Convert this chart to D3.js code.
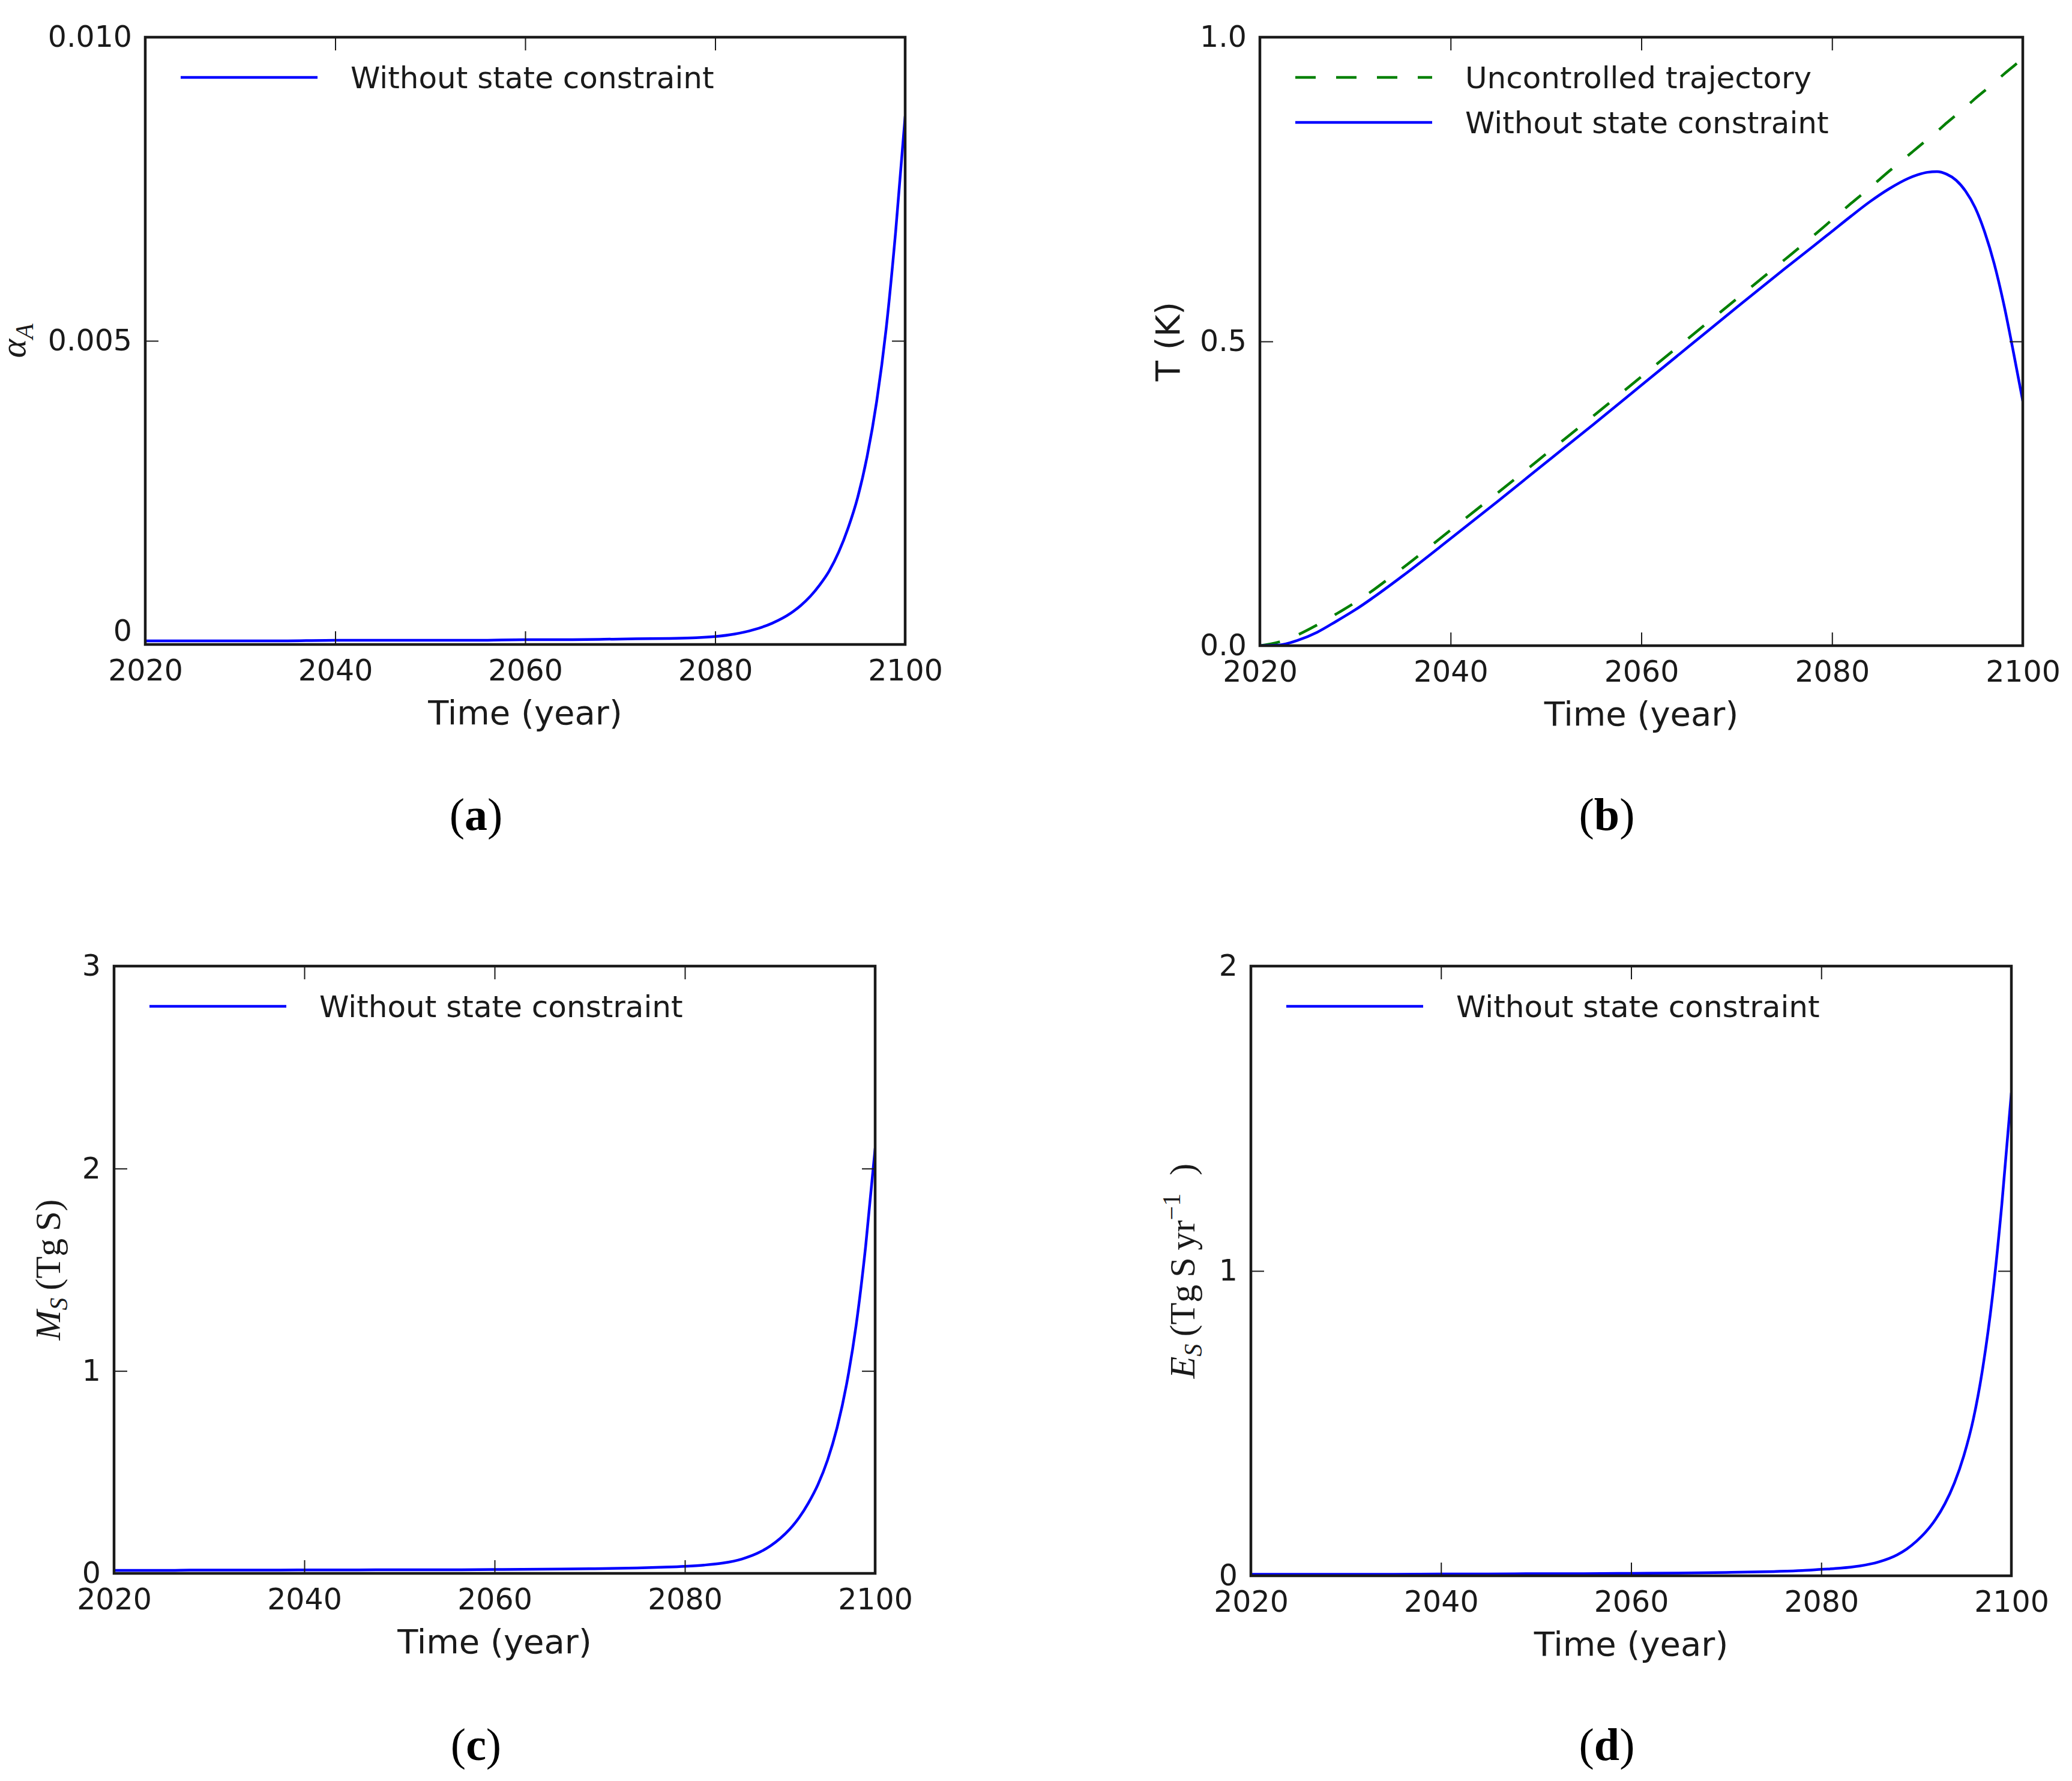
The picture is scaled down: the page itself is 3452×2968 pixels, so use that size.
<!DOCTYPE html>
<html>
<head>
<meta charset="utf-8">
<script src="https://cdn.jsdelivr.net/npm/d3@7"></script>
<style>
  body { margin: 0; background: #fff; }
  svg { display: block; }
</style>
</head>
<body>
<div id="chart"></div>
<script>
// sampled years (denser near the end where the curves bend)
const years = [2020, 2022, 2024, 2026, 2028, 2030, 2035, 2040, 2045, 2050, 2055, 2060, 2065, 2070, 2075, 2078,
  2080, 2082, 2084, 2086, 2088, 2089, 2090, 2091, 2092, 2093, 2094, 2095, 2096, 2097, 2098, 2099, 2100];

// (a) alpha_A
const alphaA = [0.00006, 0.00006, 0.00006, 0.00006, 0.00006, 0.00006, 0.00006, 0.00007, 0.00007, 0.00007, 0.00007,
  0.00008, 0.00008, 0.00009, 0.00010, 0.00011, 0.00013, 0.00017, 0.00024, 0.00035, 0.00052, 0.00064, 0.00079,
  0.00098, 0.00121, 0.00152, 0.00192, 0.00242, 0.0031, 0.0040, 0.0052, 0.0068, 0.0087];

// (b) temperature
const tempUncontrolled = [0.000, 0.006, 0.018, 0.034, 0.052, 0.071, 0.128, 0.190, 0.252, 0.315, 0.378, 0.442,
  0.506, 0.570, 0.634, 0.673, 0.700, 0.727, 0.753, 0.780, 0.806, 0.819, 0.832, 0.845, 0.859, 0.872, 0.885,
  0.899, 0.912, 0.925, 0.939, 0.952, 0.965];
const tempControlled = [0.000, 0.001, 0.009, 0.022, 0.040, 0.059, 0.115, 0.176, 0.238, 0.301, 0.364, 0.428,
  0.492, 0.556, 0.619, 0.656, 0.681, 0.706, 0.730, 0.751, 0.768, 0.774, 0.778, 0.779, 0.775, 0.765, 0.747,
  0.720, 0.680, 0.628, 0.562, 0.484, 0.402];

// (c) sulfur mass M_S
const sulfurMass = [0.015, 0.015, 0.015, 0.015, 0.016, 0.016, 0.016, 0.017, 0.017, 0.018, 0.018, 0.019, 0.021,
  0.023, 0.027, 0.031, 0.035, 0.041, 0.051, 0.071, 0.108, 0.136, 0.172, 0.217, 0.275, 0.349, 0.440, 0.560,
  0.720, 0.935, 1.225, 1.615, 2.100];

// (d) sulfur emission E_S
const sulfurEmission = [0.005, 0.005, 0.005, 0.005, 0.005, 0.005, 0.005, 0.006, 0.006, 0.007, 0.007, 0.008,
  0.009, 0.011, 0.014, 0.017, 0.021, 0.025, 0.032, 0.045, 0.069, 0.088, 0.113, 0.144, 0.184, 0.236, 0.304,
  0.394, 0.514, 0.684, 0.914, 1.220, 1.585];

const xTicks = [2020, 2040, 2060, 2080, 2100];
const alphaTicks = [0, 0.005, 0.010];
const alphaTickLabels = ['0', '0.005', '0.010'];
const tempTicks = [0, 0.5, 1.0];
const tempTickLabels = ['0.0', '0.5', '1.0'];
const massTicks = [0, 1, 2, 3];
const emissionTicks = [0, 1, 2];

const legendUncontrolled = 'Uncontrolled trajectory';
const legendControlled = 'Without state constraint';

const BLUE = '#0000ff';
const GREEN = '#008000';
const INK = '#1a1a1a';
const SANS = 'DejaVu Sans';
const SERIF = 'Liberation Serif';

const panels = [
  {
    id: 'a', left: 242, top: 62, width: 1266, height: 1012,
    yDomain: [0, 0.010], yTicks: alphaTicks, yTickLabels: alphaTickLabels, zeroShift: -22,
    series: [{ values: alphaA, color: BLUE, dash: null, label: legendControlled }],
    yLabel: 'alpha', yLabelX: 42, tag: { x: 793, y: 1383 }
  },
  {
    id: 'b', left: 2099, top: 62, width: 1271, height: 1014,
    yDomain: [0, 1.0], yTicks: tempTicks, yTickLabels: tempTickLabels, zeroShift: 0,
    series: [
      { values: tempUncontrolled, color: GREEN, dash: '34,34', label: legendUncontrolled },
      { values: tempControlled, color: BLUE, dash: null, label: legendControlled }
    ],
    yLabel: 'temp', yLabelX: 1965, tag: { x: 2677, y: 1383 }
  },
  {
    id: 'c', left: 190, top: 1610, width: 1268, height: 1012,
    yDomain: [0, 3], yTicks: massTicks, yTickLabels: massTicks.map(String), zeroShift: 0,
    series: [{ values: sulfurMass, color: BLUE, dash: null, label: legendControlled }],
    yLabel: 'mass', yLabelX: 100, tag: { x: 793, y: 2933 }
  },
  {
    id: 'd', left: 2084, top: 1610, width: 1267, height: 1016,
    yDomain: [0, 2], yTicks: emissionTicks, yTickLabels: emissionTicks.map(String), zeroShift: 0,
    series: [{ values: sulfurEmission, color: BLUE, dash: null, label: legendControlled }],
    yLabel: 'emission', yLabelX: 1990, tag: { x: 2677, y: 2933 }
  }
];

const svg = d3.select('#chart').append('svg')
  .attr('width', 3452)
  .attr('height', 2968);

svg.append('rect')
  .attr('width', 3452)
  .attr('height', 2968)
  .attr('fill', '#fff');

function drawPanel(cfg) {
  const w = cfg.width, h = cfg.height;
  const g = svg.append('g')
    .attr('transform', `translate(${cfg.left},${cfg.top})`);

  const x = d3.scaleLinear().domain([2020, 2100]).range([0, w]);
  const y = d3.scaleLinear().domain(cfg.yDomain).range([h, 0]);

  g.append('clipPath')
    .attr('id', 'clip-' + cfg.id)
    .append('rect')
    .attr('width', w)
    .attr('height', h);

  const line = d3.line()
    .x((d, i) => x(years[i]))
    .y(d => y(d))
    .curve(d3.curveMonotoneX);

  g.append('g')
    .attr('clip-path', `url(#clip-${cfg.id})`)
    .selectAll('path')
    .data(cfg.series)
    .join('path')
    .attr('d', d => line(d.values))
    .attr('fill', 'none')
    .attr('stroke', d => d.color)
    .attr('stroke-width', 4.5)
    .attr('stroke-dasharray', d => d.dash)
    .attr('stroke-linejoin', 'round');

  // ticks point inward on all four sides
  const bottom = g.append('g')
    .attr('transform', `translate(0,${h})`)
    .call(d3.axisBottom(x).tickValues(xTicks).tickSize(-22).tickPadding(25).tickFormat(d3.format('d')));
  const top = g.append('g')
    .call(d3.axisTop(x).tickValues(xTicks).tickSize(-22).tickFormat(''));
  const left = g.append('g')
    .call(d3.axisLeft(y).tickValues(cfg.yTicks).tickSize(-22).tickPadding(22)
      .tickFormat((d, i) => cfg.yTickLabels[i]));
  const right = g.append('g')
    .attr('transform', `translate(${w},0)`)
    .call(d3.axisRight(y).tickValues(cfg.yTicks).tickSize(-22).tickFormat(''));

  [bottom, top, left, right].forEach(ax => {
    ax.select('.domain').remove();
    ax.selectAll('.tick line').attr('stroke', INK).attr('stroke-width', 2);
    ax.selectAll('.tick text')
      .attr('fill', INK)
      .attr('font-family', SANS)
      .attr('font-size', 49);
  });

  if (cfg.zeroShift) {
    left.selectAll('.tick text').filter(d => d === 0).attr('y', cfg.zeroShift);
  }

  g.append('rect')
    .attr('width', w)
    .attr('height', h)
    .attr('fill', 'none')
    .attr('stroke', INK)
    .attr('stroke-width', 4.5);

  // legend
  const legend = g.append('g').attr('transform', 'translate(0,67)');
  const rows = legend.selectAll('g')
    .data(cfg.series)
    .join('g')
    .attr('transform', (d, i) => `translate(0,${i * 75})`);
  rows.append('line')
    .attr('x1', 59).attr('x2', 287)
    .attr('stroke', d => d.color)
    .attr('stroke-width', 4.5)
    .attr('stroke-dasharray', d => d.dash);
  rows.append('text')
    .attr('x', 342)
    .attr('dy', '0.36em')
    .attr('font-family', SANS)
    .attr('font-size', 50)
    .attr('fill', INK)
    .text(d => d.label);

  // x label
  g.append('text')
    .attr('x', w / 2)
    .attr('y', h + 133)
    .attr('text-anchor', 'middle')
    .attr('font-family', SANS)
    .attr('font-size', 56)
    .attr('fill', INK)
    .text('Time (year)');

  // y label (rotated)
  const cy = cfg.top + h / 2;
  const yl = svg.append('text')
    .attr('transform', `translate(${cfg.yLabelX},${cy}) rotate(-90)`)
    .attr('text-anchor', 'middle')
    .attr('fill', INK);

  if (cfg.yLabel === 'alpha') {
    yl.attr('font-family', SERIF).attr('font-size', 60);
    yl.append('tspan').attr('font-style', 'italic').text('α');
    yl.append('tspan').attr('font-style', 'italic').attr('font-size', 42).attr('dy', 13).text('A');
  } else if (cfg.yLabel === 'temp') {
    yl.attr('font-family', SANS).attr('font-size', 56).text('T (K)');
  } else if (cfg.yLabel === 'mass') {
    yl.attr('font-family', SERIF).attr('font-size', 60);
    yl.append('tspan').attr('font-style', 'italic').text('M');
    yl.append('tspan').attr('font-style', 'italic').attr('font-size', 42).attr('dy', 12).text('S');
    yl.append('tspan').attr('dy', -12).text('\u2009(Tg\u2009S)');
  } else {
    yl.attr('font-family', SERIF).attr('font-size', 60);
    yl.append('tspan').attr('font-style', 'italic').text('E');
    yl.append('tspan').attr('font-style', 'italic').attr('font-size', 42).attr('dy', 12).text('S');
    yl.append('tspan').attr('dy', -12).text('\u2009(Tg\u2009S\u2009yr');
    yl.append('tspan').attr('font-size', 42).attr('dy', -24).text('\u22121');
    yl.append('tspan').attr('dy', 24).text('\u2002)');
  }

  // panel tag, e.g. (a)
  const tag = svg.append('text')
    .attr('x', cfg.tag.x)
    .attr('y', cfg.tag.y)
    .attr('text-anchor', 'middle')
    .attr('font-family', SERIF)
    .attr('font-size', 76)
    .attr('fill', '#000');
  tag.append('tspan').text('(');
  tag.append('tspan').attr('font-weight', 'bold').text(cfg.id);
  tag.append('tspan').text(')');
}

panels.forEach(drawPanel);
</script>
</body>
</html>
